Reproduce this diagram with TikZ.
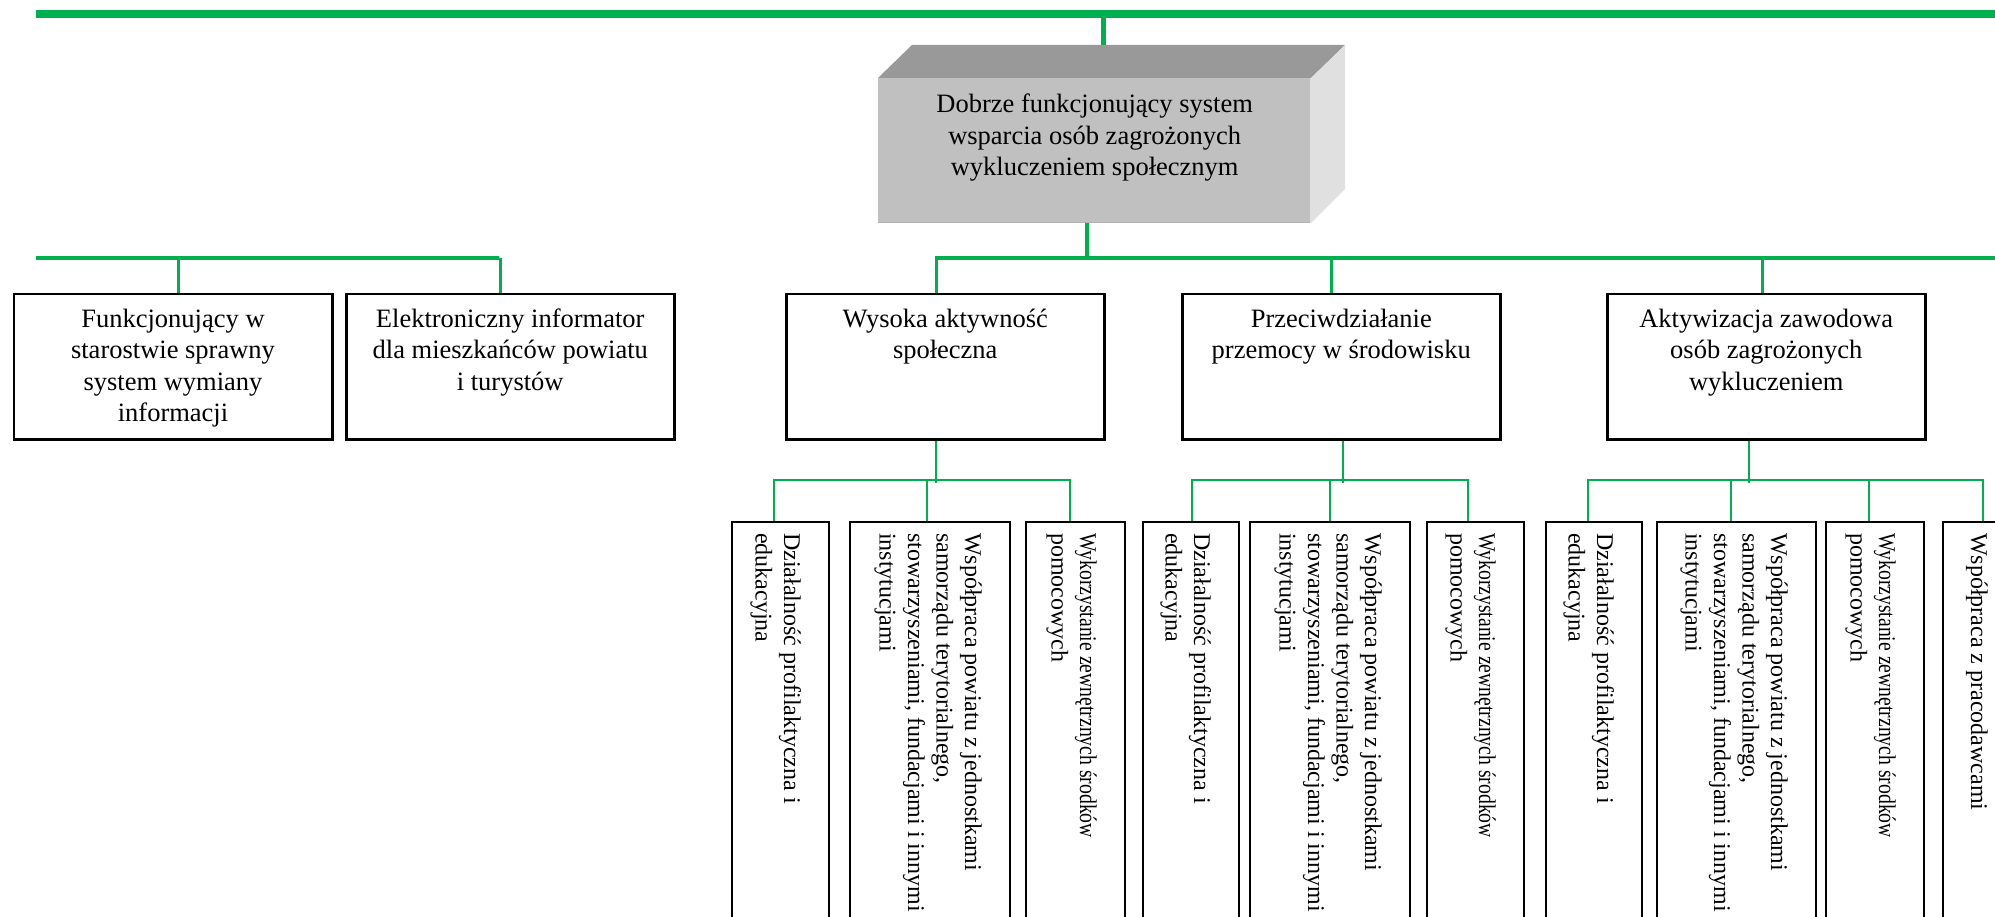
\documentclass[tikz,border=0pt]{standalone}
\usepackage{fontspec}
\setmainfont{Liberation Serif}
\usepackage{graphicx}
\definecolor{lgreen}{RGB}{0,176,80}
\definecolor{cubefront}{RGB}{192,192,192}
\definecolor{cubetop}{RGB}{153,153,153}
\definecolor{cubeside}{RGB}{224,224,224}
\newcommand{\mycent}[1]{\begin{tabular}[t]{@{}c@{}}#1\end{tabular}}
\newcommand{\myleft}[1]{\begin{tabular}[t]{@{}l@{}}#1\end{tabular}}
\begin{document}
\begin{tikzpicture}[x=1pt,y=-1pt,
  gline/.style={draw=lgreen,line width=#1},
  boxtwo/.style={draw=black,line width=2.5pt,fill=white,rectangle,inner sep=0pt,
    minimum height=145pt,minimum width=#1,anchor=north west},
  boxthree/.style={draw=black,line width=2.2pt,fill=white,rectangle,inner sep=0pt,
    minimum height=460pt,minimum width=#1,anchor=north west},
  txttwo/.style={font=\fontsize{26.5}{31.5}\selectfont,anchor=base,inner sep=0pt},
  txtthree/.style={font=\fontsize{24}{28.5}\selectfont,rotate=-90,anchor=base west,inner sep=0pt},
]
\clip (0,0) rectangle (1995,917);
\fill[white] (0,0) rectangle (1995,917);

% ---- top bus
\coordinate (tl) at (36,14);
\coordinate (tr) at (1995,14);
\draw[gline=8pt] (tl) -- (tr);

% ---- cube
\fill[cubetop] (878,78) -- (912,45) -- (1345,45) -- (1311,78) -- cycle;
\fill[cubeside] (1311,78) -- (1345,45) -- (1345,189) -- (1311,223) -- cycle;
\node[rectangle,fill=cubefront,inner sep=0pt,minimum width=433pt,minimum height=145pt,anchor=north west] (core) at (878,78) {};
\draw[line width=1.5pt,draw=black!30] ([yshift=0.75pt]core.south west) -- ([yshift=0.75pt]core.south east);
\draw[line width=1.5pt,draw=white!88!black] ([xshift=-0.75pt]core.north east) -- ([xshift=-0.75pt]core.south east);
\node[txttwo] (coretxt) at ([yshift=-35pt]core.north) {\mycent{Dobrze funkcjonujący system\\wsparcia osób zagrożonych\\wykluczeniem społecznym}};
\coordinate (ctop) at (1103,45);
\draw[gline=5pt] (ctop) -- (ctop |- tl);

% ---- level 2 boxes
\node[boxtwo=318.5pt] (b1) at (12.5,293) {};
\node[boxtwo=328pt]   (b2) at (345,293) {};
\node[boxtwo=318pt]   (b3) at (785,293) {};
\node[boxtwo=318pt]   (b4) at (1181,293) {};
\node[boxtwo=318pt]   (b5) at (1606,293) {};

\node[txttwo] (t1) at ([yshift=-34pt]b1.north) {\mycent{Funkcjonujący w\\starostwie sprawny\\system wymiany\\informacji}};
\node[txttwo] (t2) at ([yshift=-34pt]b2.north) {\mycent{Elektroniczny informator\\dla mieszkańców powiatu\\i turystów}};
\node[txttwo] (t3) at ([yshift=-34pt]b3.north) {\mycent{Wysoka aktywność\\społeczna}};
\node[txttwo] (t4) at ([yshift=-34pt]b4.north) {\mycent{Przeciwdziałanie\\przemocy w środowisku}};
\node[txttwo] (t5) at ([yshift=-34pt]b5.north) {\mycent{Aktywizacja zawodowa\\osób zagrożonych\\wykluczeniem}};

% ---- level 2 buses
\coordinate (bl1) at (36,258);
\coordinate (bl2) at (499,258);
\coordinate (br1) at (935,258);
\coordinate (br2) at (1995,258);
\draw[gline=4.5pt] (bl1) -- (bl2);
\draw[gline=4.5pt] (br1) -- (br2);
\draw[gline=3.5pt] ([xshift=-7.5pt]core.south) -- ([xshift=-7.5pt]core.south |- br1);
\draw[gline=3pt] ([xshift=5pt]b1.north) -- ([xshift=5pt]b1.north |- bl1);
\draw[gline=3pt] ([xshift=-10pt]b2.north) -- ([xshift=-10pt]b2.north |- bl1);
\draw[gline=3pt] ([xshift=-9pt]b3.north) -- ([xshift=-9pt]b3.north |- br1);
\draw[gline=3pt] ([xshift=-10pt]b4.north) -- ([xshift=-10pt]b4.north |- br1);
\draw[gline=3pt] ([xshift=-4pt]b5.north) -- ([xshift=-4pt]b5.north |- br1);

% ---- level 3 boxes
\node[boxthree=97pt]  (d1) at (731,521) {};
\node[boxthree=160pt] (w1) at (849,521) {};
\node[boxthree=99pt]  (k1) at (1025,521) {};
\node[boxthree=96pt]  (d2) at (1142,521) {};
\node[boxthree=160pt] (w2) at (1249,521) {};
\node[boxthree=97pt]  (k2) at (1426,521) {};
\node[boxthree=96pt]  (d3) at (1545,521) {};
\node[boxthree=159pt] (w3) at (1656,521) {};
\node[boxthree=98pt]  (k3) at (1825,521) {};
\node[boxthree=97pt]  (p3) at (1942,521) {};

\foreach \b in {d1,d2,d3}{
  \node[txtthree] at ([xshift=-46pt,yshift=-12pt]\b.north east) {\myleft{Działalność profilaktyczna i\\edukacyjna}};
}
\foreach \b in {w1,w2,w3}{
  \node[txtthree] at ([xshift=-46pt,yshift=-12pt]\b.north east) {\myleft{Współpraca powiatu z jednostkami\\samorządu terytorialnego,\\stowarzyszeniami, fundacjami i innymi\\instytucjami}};
}
\foreach \b in {k1,k2,k3}{
  \node[txtthree] at ([xshift=-46pt,yshift=-12pt]\b.north east) {\myleft{\scalebox{0.82}[1]{Wykorzystanie zewnętrznych środków}\\pomocowych}};
}
\node[txtthree] (p3t) at ([xshift=-70pt,yshift=-12pt]p3.north east) {\myleft{Współpraca z pracodawcami}};

% ---- level 3 buses
\draw[gline=2.2pt] ([xshift=-9pt]b3.south) -- ++(0,42);
\draw[gline=2.5pt] ([xshift=-6.5pt]d1.north) -- ++(0,-41) -| ([xshift=-5.5pt]k1.north);
\draw[gline=2.5pt] ([xshift=-3pt]w1.north) -- ++(0,-41);

\draw[gline=2.2pt] ([xshift=2pt]b4.south) -- ++(0,42);
\draw[gline=2.5pt] ([xshift=1pt]d2.north) -- ++(0,-41) -| ([xshift=-7.5pt]k2.north);
\draw[gline=2.5pt] (w2.north) -- ++(0,-41);

\draw[gline=2.2pt] ([xshift=-17pt]b5.south) -- ++(0,42);
\draw[gline=2.5pt] ([xshift=-6pt]d3.north) -- ++(0,-41) -| ([xshift=-8.5pt]p3.north);
\draw[gline=2.5pt] ([xshift=-5.5pt]w3.north) -- ++(0,-41);
\draw[gline=2.5pt] ([xshift=-6pt]k3.north) -- ++(0,-41);
\end{tikzpicture}
\end{document}
